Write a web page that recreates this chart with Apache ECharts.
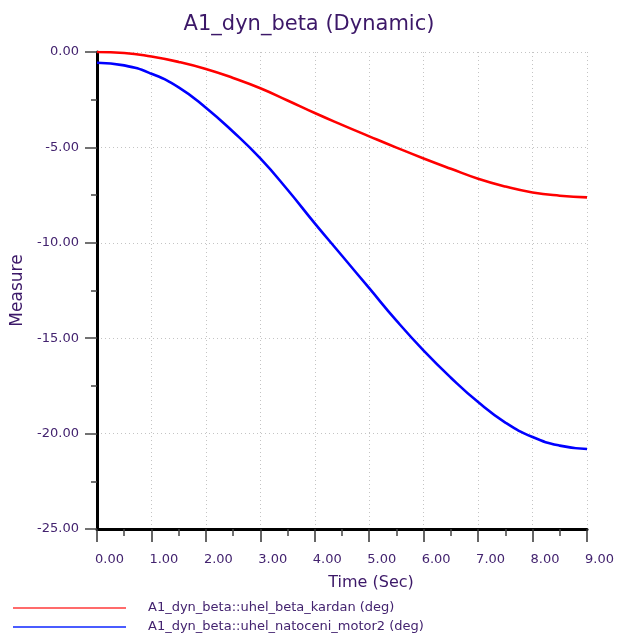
<!DOCTYPE html>
<html>
<head>
<meta charset="utf-8">
<script src="https://cdn.jsdelivr.net/npm/echarts@6/dist/echarts.min.js"></script>
<style>
html,body{margin:0;padding:0;background:#fff;}
#chart{width:618px;height:634px;}
</style>
</head>
<body>
<div id="chart"></div>
<script>
var titleText = 'A1_dyn_beta (Dynamic)';
var xName = 'Time (Sec)';
var yName = 'Measure';
var seriesNames = ['A1_dyn_beta::uhel_beta_kardan (deg)', 'A1_dyn_beta::uhel_natoceni_motor2 (deg)'];
var times = [0, 0.5, 1, 1.5, 2, 2.5, 3, 3.5, 4, 4.5, 5, 5.5, 6, 6.5, 7, 7.5, 8, 8.5, 9];
var kardan = [0, -0.05, -0.24, -0.52, -0.89, -1.36, -1.90, -2.54, -3.20, -3.82, -4.42, -5.01, -5.58, -6.12, -6.64, -7.05, -7.36, -7.53, -7.62];
var motor2 = [-0.56, -0.70, -1.14, -1.85, -2.92, -4.18, -5.58, -7.22, -8.98, -10.68, -12.38, -14.08, -15.65, -17.07, -18.35, -19.42, -20.18, -20.63, -20.81];

var FONT = 'DejaVu Sans';
var TXT = '#43236f';

function pairs(xs, ys) { return xs.map(function (x, i) { return [x, ys[i]]; }); }

var chart = echarts.init(document.getElementById('chart'), null, { renderer: 'canvas' });
chart.setOption({
  backgroundColor: '#ffffff',
  animation: false,
  title: {
    text: titleText,
    left: 'center',
    top: 9,
    padding: [5, 0, 5, 22],
    textStyle: { fontFamily: FONT, fontSize: 21, fontWeight: 'normal', color: '#3c1868' }
  },
  grid: { left: 97, right: 31, top: 52, bottom: 105, containLabel: false, outerBoundsMode: 'none' },
  legend: {
    orient: 'vertical',
    left: 13,
    top: 601,
    padding: 0,
    icon: 'rect',
    itemWidth: 113,
    itemHeight: 2,
    itemGap: 5,
    textStyle: { fontFamily: FONT, fontSize: 13, color: TXT, lineHeight: 14, padding: [0, 0, 0, 17] },
    data: [
      { name: seriesNames[0], itemStyle: { color: '#ff6b6b' } },
      { name: seriesNames[1], itemStyle: { color: '#4a5cff' } }
    ]
  },
  xAxis: {
    type: 'value',
    min: 0, max: 9, interval: 1,
    name: xName,
    nameLocation: 'middle',
    nameGap: 46,
    nameTextStyle: { fontFamily: FONT, fontSize: 16, color: '#3c1868', padding: [0, 0, 0, 58] },
    axisLine: { show: true, onZero: false, lineStyle: { color: '#000', width: 3 } },
    axisTick: { show: true, length: 13, lineStyle: { color: '#333', width: 1.5 } },
    minorTick: { show: true, splitNumber: 2, length: 7, lineStyle: { color: '#444', width: 1.5 } },
    axisLabel: {
      fontFamily: FONT, fontSize: 13, color: TXT, align: 'left', margin: 24,
      padding: [0, 0, 0, -2],
      showMinLabel: true, showMaxLabel: true,
      formatter: function (v) { return v.toFixed(2); }
    },
    splitLine: { show: true, lineStyle: { color: '#c4c4c4', width: 1, type: [1, 3] } }
  },
  yAxis: {
    type: 'value',
    min: -25, max: 0, interval: 5,
    name: yName,
    nameLocation: 'middle',
    nameGap: 68,
    nameTextStyle: { fontFamily: FONT, fontSize: 17, color: '#3c1868' },
    axisLine: { show: true, onZero: false, lineStyle: { color: '#000', width: 3 } },
    axisTick: { show: true, length: 12, lineStyle: { color: '#444', width: 1.5 } },
    minorTick: { show: true, splitNumber: 2, length: 6, lineStyle: { color: '#444', width: 1.5 } },
    axisLabel: {
      fontFamily: FONT, fontSize: 13, color: TXT, margin: 18,
      verticalAlign: 'middle', padding: [0, 0, 9, 0],
      showMinLabel: true, showMaxLabel: true,
      formatter: function (v) { return v.toFixed(2); }
    },
    splitLine: { show: true, lineStyle: { color: '#c4c4c4', width: 1, type: [1, 3] } }
  },
  series: [
    {
      name: seriesNames[0], type: 'line', data: pairs(times, kardan),
      smooth: 0.5, showSymbol: false, symbol: 'none',
      lineStyle: { color: '#ff0000', width: 2.6 }, itemStyle: { color: '#ff0000' }
    },
    {
      name: seriesNames[1], type: 'line', data: pairs(times, motor2),
      smooth: 0.5, showSymbol: false, symbol: 'none',
      lineStyle: { color: '#0000ff', width: 2.6 }, itemStyle: { color: '#0000ff' }
    }
  ]
});
</script>
</body>
</html>
